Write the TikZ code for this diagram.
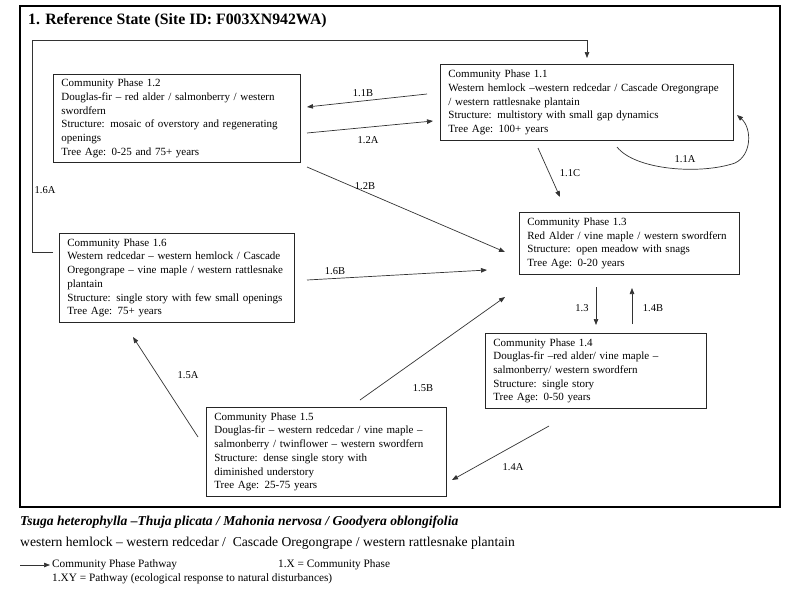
\documentclass[tikz,border=0pt]{standalone}
\usepackage{fontspec}
\setmainfont{Liberation Serif}
\usetikzlibrary{arrows.meta}
\begin{document}
\begin{tikzpicture}[x=1pt,y=-1pt,
  phase/.style={draw=black!85, line width=0.8pt, anchor=north west, align=left,
    inner xsep=8pt, inner ysep=3pt, font=\fontsize{11}{13.7}\selectfont},
  pathway/.style={draw=black!80, line width=0.7pt, -{Triangle[length=6pt,width=4.5pt]}},
  plab/.style={font=\fontsize{10.5}{12}\selectfont, inner sep=0pt},
  txt/.style={anchor=west, inner sep=0pt}
]
\useasboundingbox (0,0) rectangle (800,600);
\fill[white] (0,0) rectangle (800,600);
\draw[line width=2.8pt] (20,6) rectangle (780,507);
\node[txt, font=\bfseries\fontsize{15.8}{18}\selectfont] (title) at (28,21) {1. Reference State (Site ID: F003XN942WA)};

% community phase boxes
\node[phase, text width=277pt, minimum height=76pt] (p11) at (440,64)
  {Community Phase 1.1\\Western hemlock --western redcedar / Cascade Oregongrape\\/ western rattlesnake plantain\\Structure: multistory with small gap dynamics\\Tree Age: 100+ years};
\node[phase, text width=231pt, minimum height=88pt] (p12) at (53,74)
  {Community Phase 1.2\\Douglas-fir -- red alder / salmonberry / western\\swordfern\\Structure: mosaic of overstory and regenerating\\openings\\Tree Age: 0-25 and 75+ years};
\node[phase, text width=204pt, minimum height=62pt] (p13) at (519,212)
  {Community Phase 1.3\\Red Alder / vine maple / western swordfern\\Structure: open meadow with snags\\Tree Age: 0-20 years};
\node[phase, text width=205pt, minimum height=75pt] (p14) at (485,333)
  {Community Phase 1.4\\Douglas-fir --red alder/ vine maple --\\salmonberry/ western swordfern\\Structure: single story\\Tree Age: 0-50 years};
\node[phase, text width=224pt, minimum height=89pt] (p15) at (206,407)
  {Community Phase 1.5\\Douglas-fir -- western redcedar / vine maple --\\salmonberry / twinflower -- western swordfern\\Structure: dense single story with\\diminished understory\\Tree Age: 25-75 years};
\node[phase, text width=219pt, minimum height=89pt] (p16) at (59,233)
  {Community Phase 1.6\\Western redcedar -- western hemlock / Cascade\\Oregongrape -- vine maple / western rattlesnake\\plantain\\Structure: single story with few small openings\\Tree Age: 75+ years};

% connector end points
\coordinate (a6s) at (53,252);   \coordinate (a6e) at (587,58);
\coordinate (b1s) at (427,94);   \coordinate (b1e) at (307,107);
\coordinate (a2s) at (307,133);  \coordinate (a2e) at (433,121);
\coordinate (b2s) at (307,167);  \coordinate (b2e) at (505,252);
\coordinate (b6s) at (307,280);  \coordinate (b6e) at (487,270);
\coordinate (b5s) at (360,400);  \coordinate (b5e) at (505,297);
\coordinate (a5s) at (198,437);  \coordinate (a5e) at (133,337);
\coordinate (a4s) at (549,426);  \coordinate (a4e) at (452,480);
\coordinate (c3s) at (596,287);  \coordinate (c3e) at (596,325);
\coordinate (b4s) at (632,324);  \coordinate (b4e) at (632,288);
\coordinate (c1s) at (538,148);  \coordinate (c1e) at (560,197);
\coordinate (a1s) at (617,147);  \coordinate (a1e) at (737,115);

\draw[pathway] (a6s) -- (32,252) -- (32,40) -- (587,40) -- (a6e);
\draw[pathway] (b1s) -- (b1e);
\draw[pathway] (a2s) -- (a2e);
\draw[pathway] (b2s) -- (b2e);
\draw[pathway] (b6s) -- (b6e);
\draw[pathway] (b5s) -- (b5e);
\draw[pathway] (a5s) -- (a5e);
\draw[pathway] (a4s) -- (a4e);
\draw[pathway] (c3s) -- (c3e);
\draw[pathway] (b4s) -- (b4e);
\draw[pathway] (c1s) -- (c1e);
\draw[pathway] (a1s) .. controls (635,170) and (700,175) .. (735,163) .. controls (752,155) and (752,128) .. (a1e);

% pathway labels
\node[plab] (l6a) at (45,190) {1.6A};
\node[plab] (l1b) at (363,93) {1.1B};
\node[plab] (l2a) at (368,140) {1.2A};
\node[plab] (l2b) at (365,186) {1.2B};
\node[plab] (l6b) at (335,271) {1.6B};
\node[plab] (l5b) at (423,388) {1.5B};
\node[plab] (l5a) at (188,375) {1.5A};
\node[plab] (l4a) at (513,467) {1.4A};
\node[plab] (l13) at (582,308) {1.3};
\node[plab] (l4b) at (653,308) {1.4B};
\node[plab] (l1c) at (570,173) {1.1C};
\node[plab] (l1a) at (685,159) {1.1A};

% legend
\node[txt, font=\bfseries\itshape\fontsize{13.6}{15}\selectfont] (sci) at (20,522)
  {Tsuga heterophylla --Thuja plicata / Mahonia nervosa / Goodyera oblongifolia};
\node[txt, font=\fontsize{13.6}{15}\selectfont] (com) at (20,543)
  {western hemlock -- western redcedar / \ Cascade Oregongrape / western rattlesnake plantain};
\coordinate (lg1s) at (20,565); \coordinate (lg1e) at (50,565);
\draw[pathway] (lg1s) -- (lg1e);
\node[txt, font=\fontsize{11.3}{13}\selectfont] (lg1) at (52,565) {Community Phase Pathway};
\node[txt, font=\fontsize{11.3}{13}\selectfont] (lg2) at (278,565) {1.X = Community Phase};
\node[txt, font=\fontsize{11.3}{13}\selectfont] (lg3) at (52,579) {1.XY = Pathway (ecological response to natural disturbances)};
\end{tikzpicture}
\end{document}
